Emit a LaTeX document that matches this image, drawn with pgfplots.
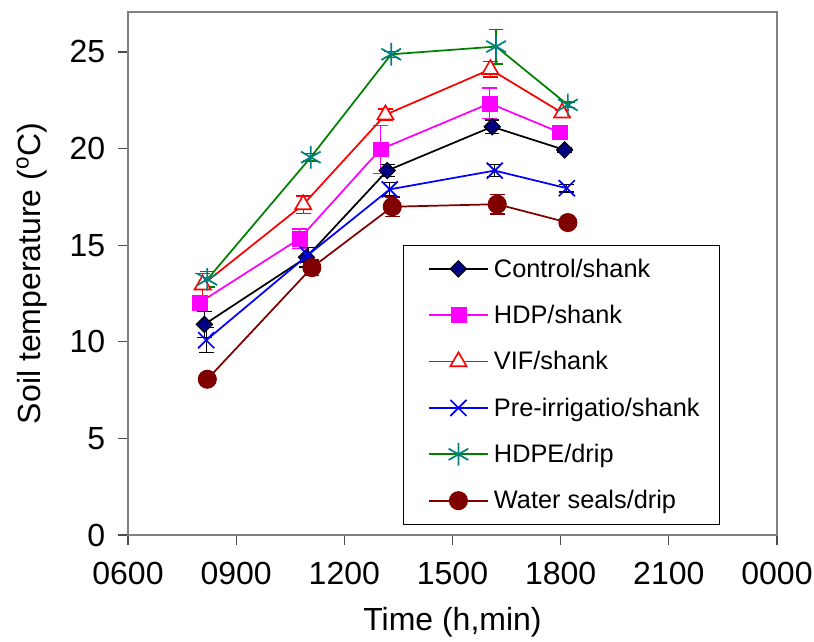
\documentclass[border=0pt]{standalone}
\usepackage{fontspec}
\setmainfont{Liberation Sans}
\usepackage{pgfplots}
\pgfplotsset{compat=1.18}
\definecolor{cnavy}{RGB}{0,0,128}
\definecolor{cmag}{RGB}{255,0,255}
\definecolor{cred}{RGB}{255,0,0}
\definecolor{cblue}{RGB}{0,0,255}
\definecolor{cgreen}{RGB}{0,128,0}
\definecolor{cteal}{RGB}{0,128,128}
\definecolor{cmaroon}{RGB}{128,0,0}
\definecolor{cframe}{RGB}{128,128,128}
\newcommand{\lf}{\fontsize{19}{22}\selectfont}
\begin{document}
\begin{tikzpicture}
\begin{axis}[
  scale only axis,
  width=486.75pt, height=392.25pt,
  xmin=6, xmax=24, ymin=0, ymax=27.07,
  xtick={6,9,12,15,18,21,24},
  xticklabels={0600,0900,1200,1500,1800,2100,0000},
  ytick={0,5,10,15,20,25},
  tick align=outside, xtick pos=bottom, ytick pos=left,
  major tick length=7.5pt,
  tick style={line width=0.8pt, color=black!70},
  axis line style={line width=1pt, color=cframe},
  /pgf/number format/assume math mode=true,
  ticklabel style={font=\fontsize{24}{28}\selectfont},
  xticklabel style={yshift=-9pt},
  yticklabel style={xshift=-6pt},
  label style={font=\fontsize{24}{28}\selectfont},
  xlabel={Time (h,min)},
  ylabel={Soil temperature (\textsuperscript{o}C)},
  ylabel style={yshift=10pt},
  xlabel style={yshift=-10pt},
  clip=false,
  legend style={at={(0.423,0.5545)}, anchor=north west, draw=black, line width=0.6pt,
    font=\lf, row sep=15.5pt, inner xsep=13pt, inner ysep=8pt},
  legend cell align=left,
  legend image code/.code={
    \path (0pt,0pt) (52pt,0pt);
    \draw[#1, mark repeat=2, mark phase=2] plot coordinates {(6pt,0pt) (28pt,0pt) (50pt,0pt)};
  },
  every axis plot/.append style={line width=1.3pt},
  error bars/y dir=both, error bars/y explicit,
]
% Control/shank
\addplot[black, mark=square*, mark size=4.3pt, mark options={rotate=45, fill=cnavy, draw=black, line width=0.8pt},
  error bars/error bar style={black, line width=1pt}, error bars/error mark options={rotate=90, black, mark size=5.5pt, line width=1pt}]
  table[x=x, y=y, y error=e] {
x y e
8.12 10.90 0.68
10.95 14.37 0.50
13.19 18.86 0.30
16.10 21.13 0.35
18.11 19.93 0.10
};
\addlegendentry{\lf Control/shank}
% HDP/shank
\addplot[cmag, mark=square*, mark size=5.6pt, mark options={fill=cmag, draw=cmag, line width=0.5pt},
  error bars/error bar style={cmag, line width=1pt}, error bars/error mark options={rotate=90, cmag, mark size=5.5pt, line width=1pt}]
  table[x=x, y=y, y error=e] {
x y e
7.98 12.02 0.10
10.76 15.34 0.50
13.00 19.96 1.25
16.03 22.34 0.80
17.97 20.84 0.10
};
\addlegendentry{\lf HDP/shank}
% VIF/shank
\addplot[cred, mark=triangle*, mark size=7pt, mark options={fill=white, draw=cred, line width=1.2pt},
  error bars/error bar style={cred, line width=1pt}, error bars/error mark options={rotate=90, cred, mark size=5.5pt, line width=1pt}]
  table[x=x, y=y, y error=e] {
x y e
8.07 12.95 0.60
10.86 17.10 0.45
13.14 21.75 0.30
16.05 24.10 0.40
18.04 21.85 0.15
};
\addlegendentry{\lf VIF/shank}
% Pre-irrigatio/shank
\addplot[cblue, mark=x, mark size=8.5pt, mark options={cblue, line width=1.3pt},
  error bars/error bar style={black, line width=1pt}, error bars/error mark options={rotate=90, black, mark size=5.5pt, line width=1pt}]
  table[x=x, y=y, y error=e] {
x y e
8.17 10.08 0.65
10.99 14.49 0.40
13.26 17.89 0.35
16.17 18.86 0.30
18.17 17.95 0.20
};
\addlegendentry{\lf Pre-irrigatio/shank}
% HDPE/drip
\addplot[cgreen, mark=asterisk, mark size=8.5pt, mark options={cteal, line width=1.3pt},
  error bars/error bar style={cgreen, line width=1pt}, error bars/error mark options={rotate=90, cgreen, mark size=5.5pt, line width=1pt}]
  table[x=x, y=y, y error=e] {
x y e
8.20 13.23 0.40
11.07 19.55 0.20
13.30 24.88 0.15
16.21 25.28 0.90
18.20 22.26 0.15
};
\addlegendentry{\lf HDPE/drip}
% Water seals/drip
\addplot[cmaroon, mark=*, mark size=6.5pt, mark options={fill=cmaroon, draw=cmaroon},
  error bars/error bar style={cmaroon, line width=1pt}, error bars/error mark options={rotate=90, cmaroon, mark size=5.5pt, line width=1pt}]
  table[x=x, y=y, y error=e] {
x y e
8.20 8.06 0.10
11.10 13.84 0.40
13.33 16.99 0.50
16.24 17.12 0.50
18.20 16.17 0.10
};
\addlegendentry{\lf Water seals/drip}
\coordinate (bbl) at (rel axis cs:-0.1972,-0.2027);
\coordinate (btr) at (rel axis cs:1.0570,1.0229);
\end{axis}
\pgfresetboundingbox
\path[use as bounding box] (bbl) rectangle (btr);
\end{tikzpicture}
\end{document}
